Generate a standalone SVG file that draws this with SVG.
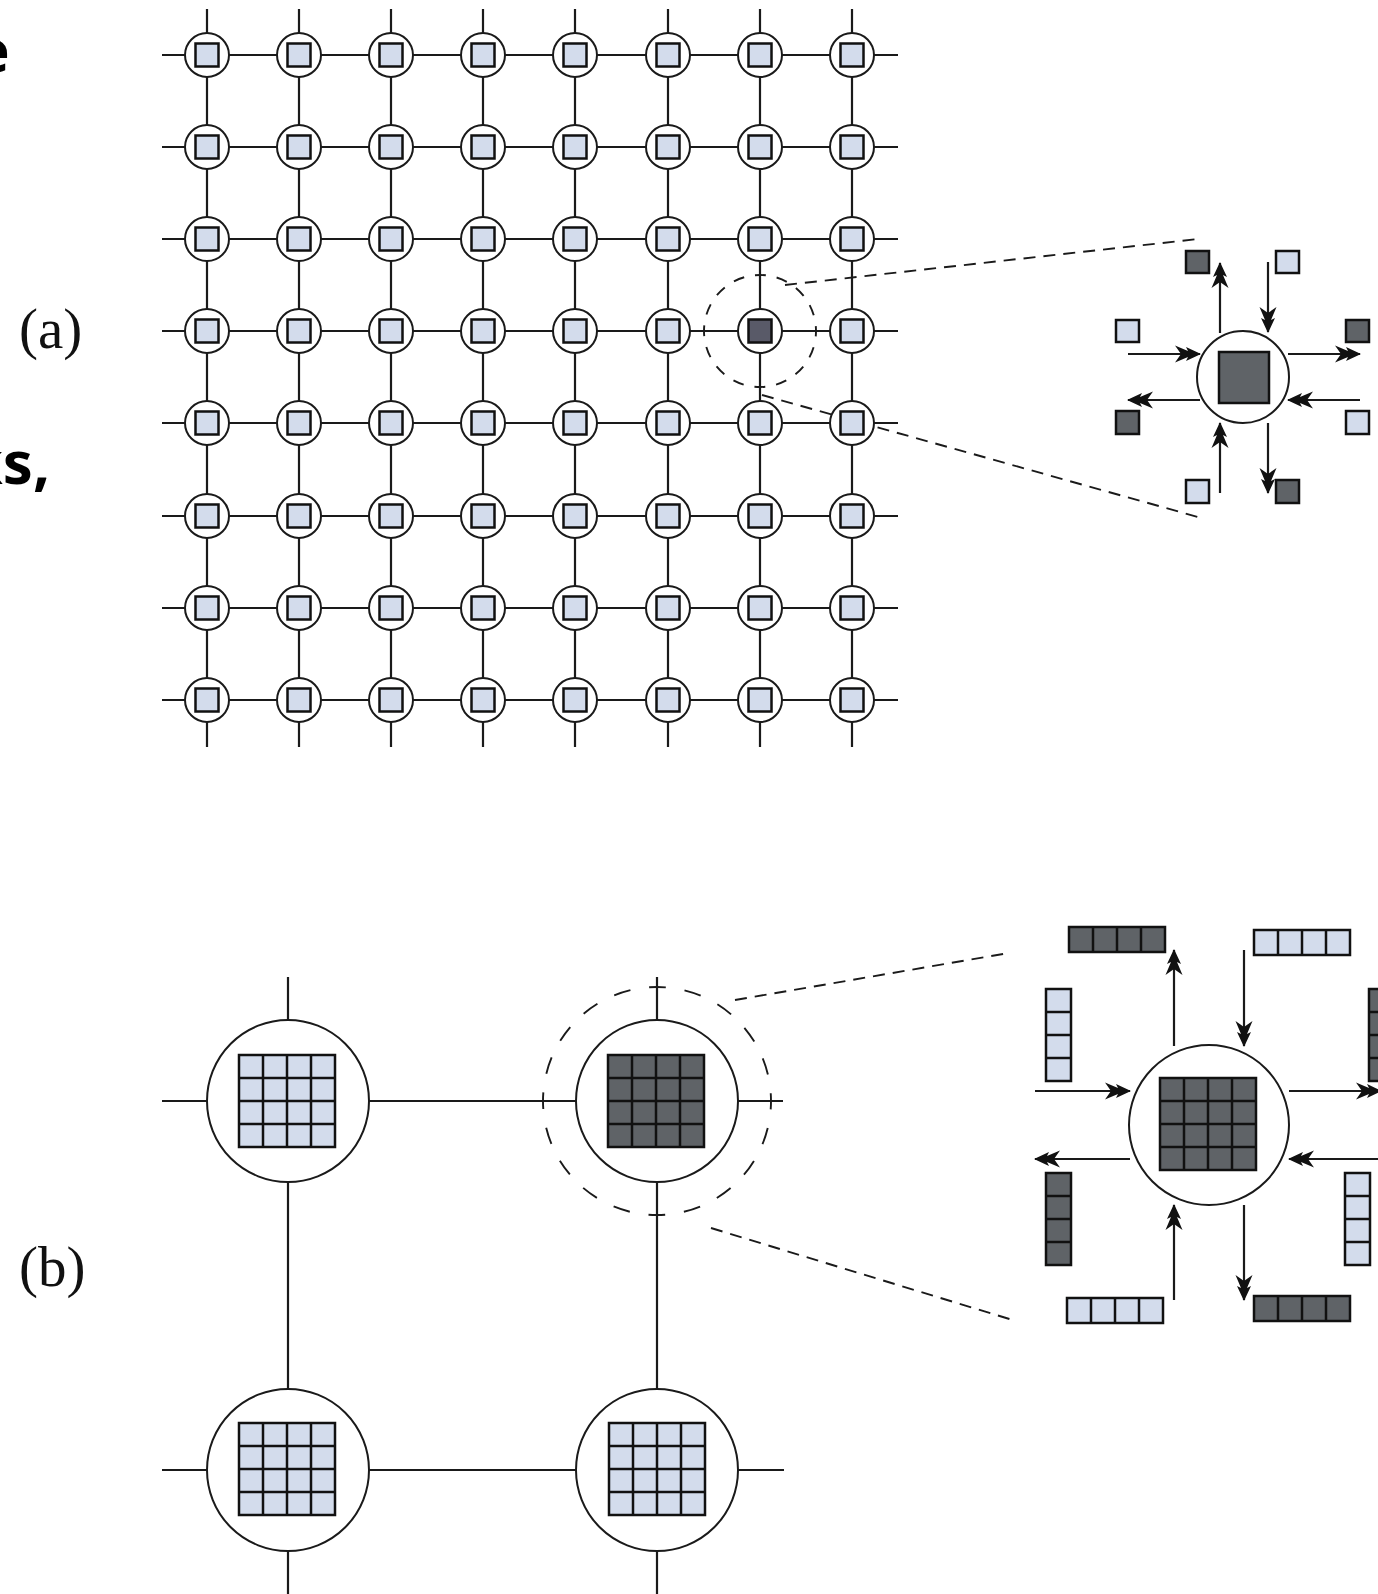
<svg xmlns="http://www.w3.org/2000/svg" xmlns:xlink="http://www.w3.org/1999/xlink" width="1378" height="1594" viewBox="0 0 1378 1594">
<style>
.ln{stroke:#1a1a1a;stroke-width:2.2;fill:none}
.ring{fill:#fff;stroke:#1a1a1a;stroke-width:2}
.sqL{fill:#d3dcec;stroke:#111;stroke-width:2.5}
.sqD{fill:#5f6367;stroke:#111;stroke-width:2.5}
.sqH{fill:#595a68;stroke:#111;stroke-width:2.5}
.dash{fill:none;stroke:#1a1a1a;stroke-width:1.9}
.cell{stroke:#111;stroke-width:2.5;fill:none}
.lblS{font-family:"Liberation Serif","Times New Roman",serif;font-size:57px;fill:#111}
.lblB{font-family:"Noto Sans","Open Sans",sans-serif;font-weight:700;font-style:normal;font-size:60px;fill:#000}
.arr{stroke:#1a1a1a;stroke-width:2.2;fill:none;marker-end:url(#ah)}
</style>
<defs>
<marker id="ah" markerUnits="userSpaceOnUse" markerWidth="30" markerHeight="22" viewBox="-27 -11 30 22" refX="0" refY="0" orient="auto">
<path d="M1,0 L-14,-7 L-12,-3 L-25,-8.5 L-19,0 L-25,8.5 L-12,3 L-14,7 Z" fill="#111"/>
</marker>
<g id="nodeA"><circle r="22" class="ring"/><rect x="-11.5" y="-11.5" width="23" height="23" class="sqL"/></g>
<g id="gridL"><rect x="-48" y="-46" width="96" height="92" fill="#d3dcec"/><path class="cell" d="M-48,-46h96v92h-96z M-24,-46v92 M0,-46v92 M24,-46v92 M-48,-23h96 M-48,0h96 M-48,23h96"/></g>
<g id="gridD"><rect x="-48" y="-46" width="96" height="92" fill="#5f6367"/><path class="cell" d="M-48,-46h96v92h-96z M-24,-46v92 M0,-46v92 M24,-46v92 M-48,-23h96 M-48,0h96 M-48,23h96"/></g>
<g id="barHL"><rect width="96" height="25" fill="#d3dcec"/><path class="cell" d="M0,0h96v25h-96z M24,0v25 M48,0v25 M72,0v25"/></g>
<g id="barHD"><rect width="96" height="25" fill="#5f6367"/><path class="cell" d="M0,0h96v25h-96z M24,0v25 M48,0v25 M72,0v25"/></g>
<g id="barVL"><rect width="25" height="92" fill="#d3dcec"/><path class="cell" d="M0,0h25v92h-25z M0,23h25 M0,46h25 M0,69h25"/></g>
<g id="barVD"><rect width="25" height="92" fill="#5f6367"/><path class="cell" d="M0,0h25v92h-25z M0,23h25 M0,46h25 M0,69h25"/></g>
</defs>
<rect width="1378" height="1594" fill="#fff"/>

<g id="texts">
<text class="lblB" x="-26" y="72">e</text>
<text class="lblB" x="50" y="484" text-anchor="end">ks,</text>
<text class="lblS" x="19" y="348">(a)</text>
<text class="lblS" x="19" y="1286">(b)</text>
</g>

<g id="connectors">
<g id="mesh-a">
<path class="ln" d="M207,9V747 M299,9V747 M391,9V747 M483,9V747 M575,9V747 M668,9V747 M760,9V747 M852,9V747"/>
<path class="ln" d="M162,55H898 M162,147H898 M162,239H898 M162,331H898 M162,423H898 M162,516H898 M162,608H898 M162,700H898"/>
</g>
<g id="mesh-b">
<path class="ln" d="M288,977V1594 M657,977V1594 M162,1101H783 M162,1470H784"/>
</g>
<g id="zoom-a">
<circle class="dash" cx="760" cy="331" r="56" stroke-dasharray="11 10.99" stroke-dashoffset="5.5"/>
<path class="dash" stroke-dasharray="12 8" d="M785,285 L1198,239"/>
<path class="dash" stroke-dasharray="12 8" d="M762,395 L1198,517"/>
</g>
<g id="zoom-b">
<circle class="dash" cx="657" cy="1101" r="114" stroke-dasharray="17 18.81" stroke-dashoffset="8.5"/>
<path class="dash" stroke-dasharray="12 8" d="M735,1000 L1009,953"/>
<path class="dash" stroke-dasharray="12 8" d="M711,1228 L1016,1321"/>
</g>
<g id="arrows-a">
<path class="arr" d="M1220,333V263"/>
<path class="arr" d="M1268,262V332"/>
<path class="arr" d="M1128,354H1200"/>
<path class="arr" d="M1288,354H1360"/>
<path class="arr" d="M1200,400H1128"/>
<path class="arr" d="M1360,400H1288"/>
<path class="arr" d="M1220,493V423"/>
<path class="arr" d="M1268,423V493"/>
</g>
<g id="arrows-b">
<path class="arr" d="M1174,1046V950"/>
<path class="arr" d="M1244,950V1046"/>
<path class="arr" d="M1035,1091H1130"/>
<path class="arr" d="M1289,1091H1381"/>
<path class="arr" d="M1130,1159H1035"/>
<path class="arr" d="M1380,1159H1289"/>
<path class="arr" d="M1174,1300V1205"/>
<path class="arr" d="M1244,1205V1300"/>
</g>
</g>

<g id="nodes-a">
<g id="a-r1c1" transform="translate(207,55)"><use href="#nodeA"/></g>
<g id="a-r1c2" transform="translate(299,55)"><use href="#nodeA"/></g>
<g id="a-r1c3" transform="translate(391,55)"><use href="#nodeA"/></g>
<g id="a-r1c4" transform="translate(483,55)"><use href="#nodeA"/></g>
<g id="a-r1c5" transform="translate(575,55)"><use href="#nodeA"/></g>
<g id="a-r1c6" transform="translate(668,55)"><use href="#nodeA"/></g>
<g id="a-r1c7" transform="translate(760,55)"><use href="#nodeA"/></g>
<g id="a-r1c8" transform="translate(852,55)"><use href="#nodeA"/></g>
<g id="a-r2c1" transform="translate(207,147)"><use href="#nodeA"/></g>
<g id="a-r2c2" transform="translate(299,147)"><use href="#nodeA"/></g>
<g id="a-r2c3" transform="translate(391,147)"><use href="#nodeA"/></g>
<g id="a-r2c4" transform="translate(483,147)"><use href="#nodeA"/></g>
<g id="a-r2c5" transform="translate(575,147)"><use href="#nodeA"/></g>
<g id="a-r2c6" transform="translate(668,147)"><use href="#nodeA"/></g>
<g id="a-r2c7" transform="translate(760,147)"><use href="#nodeA"/></g>
<g id="a-r2c8" transform="translate(852,147)"><use href="#nodeA"/></g>
<g id="a-r3c1" transform="translate(207,239)"><use href="#nodeA"/></g>
<g id="a-r3c2" transform="translate(299,239)"><use href="#nodeA"/></g>
<g id="a-r3c3" transform="translate(391,239)"><use href="#nodeA"/></g>
<g id="a-r3c4" transform="translate(483,239)"><use href="#nodeA"/></g>
<g id="a-r3c5" transform="translate(575,239)"><use href="#nodeA"/></g>
<g id="a-r3c6" transform="translate(668,239)"><use href="#nodeA"/></g>
<g id="a-r3c7" transform="translate(760,239)"><use href="#nodeA"/></g>
<g id="a-r3c8" transform="translate(852,239)"><use href="#nodeA"/></g>
<g id="a-r4c1" transform="translate(207,331)"><use href="#nodeA"/></g>
<g id="a-r4c2" transform="translate(299,331)"><use href="#nodeA"/></g>
<g id="a-r4c3" transform="translate(391,331)"><use href="#nodeA"/></g>
<g id="a-r4c4" transform="translate(483,331)"><use href="#nodeA"/></g>
<g id="a-r4c5" transform="translate(575,331)"><use href="#nodeA"/></g>
<g id="a-r4c6" transform="translate(668,331)"><use href="#nodeA"/></g>
<g id="a-r4c7" transform="translate(760,331)"><circle r="22" class="ring"/><rect x="-11.5" y="-11.5" width="23" height="23" class="sqH"/></g>
<g id="a-r4c8" transform="translate(852,331)"><use href="#nodeA"/></g>
<g id="a-r5c1" transform="translate(207,423)"><use href="#nodeA"/></g>
<g id="a-r5c2" transform="translate(299,423)"><use href="#nodeA"/></g>
<g id="a-r5c3" transform="translate(391,423)"><use href="#nodeA"/></g>
<g id="a-r5c4" transform="translate(483,423)"><use href="#nodeA"/></g>
<g id="a-r5c5" transform="translate(575,423)"><use href="#nodeA"/></g>
<g id="a-r5c6" transform="translate(668,423)"><use href="#nodeA"/></g>
<g id="a-r5c7" transform="translate(760,423)"><use href="#nodeA"/></g>
<g id="a-r5c8" transform="translate(852,423)"><use href="#nodeA"/></g>
<g id="a-r6c1" transform="translate(207,516)"><use href="#nodeA"/></g>
<g id="a-r6c2" transform="translate(299,516)"><use href="#nodeA"/></g>
<g id="a-r6c3" transform="translate(391,516)"><use href="#nodeA"/></g>
<g id="a-r6c4" transform="translate(483,516)"><use href="#nodeA"/></g>
<g id="a-r6c5" transform="translate(575,516)"><use href="#nodeA"/></g>
<g id="a-r6c6" transform="translate(668,516)"><use href="#nodeA"/></g>
<g id="a-r6c7" transform="translate(760,516)"><use href="#nodeA"/></g>
<g id="a-r6c8" transform="translate(852,516)"><use href="#nodeA"/></g>
<g id="a-r7c1" transform="translate(207,608)"><use href="#nodeA"/></g>
<g id="a-r7c2" transform="translate(299,608)"><use href="#nodeA"/></g>
<g id="a-r7c3" transform="translate(391,608)"><use href="#nodeA"/></g>
<g id="a-r7c4" transform="translate(483,608)"><use href="#nodeA"/></g>
<g id="a-r7c5" transform="translate(575,608)"><use href="#nodeA"/></g>
<g id="a-r7c6" transform="translate(668,608)"><use href="#nodeA"/></g>
<g id="a-r7c7" transform="translate(760,608)"><use href="#nodeA"/></g>
<g id="a-r7c8" transform="translate(852,608)"><use href="#nodeA"/></g>
<g id="a-r8c1" transform="translate(207,700)"><use href="#nodeA"/></g>
<g id="a-r8c2" transform="translate(299,700)"><use href="#nodeA"/></g>
<g id="a-r8c3" transform="translate(391,700)"><use href="#nodeA"/></g>
<g id="a-r8c4" transform="translate(483,700)"><use href="#nodeA"/></g>
<g id="a-r8c5" transform="translate(575,700)"><use href="#nodeA"/></g>
<g id="a-r8c6" transform="translate(668,700)"><use href="#nodeA"/></g>
<g id="a-r8c7" transform="translate(760,700)"><use href="#nodeA"/></g>
<g id="a-r8c8" transform="translate(852,700)"><use href="#nodeA"/></g>
</g>

<g id="detail-a">
<g id="da-center"><circle cx="1243" cy="377" r="46" class="ring"/><rect x="1219" y="352" width="50" height="51" class="sqD"/></g>
<g id="da-tl"><rect x="1186" y="251" width="23" height="22" class="sqD"/></g>
<g id="da-tr"><rect x="1276" y="251" width="23" height="22" class="sqL"/></g>
<g id="da-lu"><rect x="1116" y="320" width="23" height="22" class="sqL"/></g>
<g id="da-ru"><rect x="1346" y="320" width="23" height="22" class="sqD"/></g>
<g id="da-ll"><rect x="1116" y="411" width="23" height="23" class="sqD"/></g>
<g id="da-rl"><rect x="1346" y="411" width="23" height="23" class="sqL"/></g>
<g id="da-bl"><rect x="1186" y="480" width="23" height="23" class="sqL"/></g>
<g id="da-br"><rect x="1276" y="480" width="23" height="23" class="sqD"/></g>
</g>

<g id="nodes-b">
<g id="b-r1c1"><circle cx="288" cy="1101" r="81" class="ring"/><use href="#gridL" transform="translate(287,1101)"/></g>
<g id="b-r1c2"><circle cx="657" cy="1101" r="81" class="ring"/><use href="#gridD" transform="translate(656,1101)"/></g>
<g id="b-r2c1"><circle cx="288" cy="1470" r="81" class="ring"/><use href="#gridL" transform="translate(287,1469)"/></g>
<g id="b-r2c2"><circle cx="657" cy="1470" r="81" class="ring"/><use href="#gridL" transform="translate(657,1469)"/></g>
</g>

<g id="detail-b">
<g id="db-center"><circle cx="1209" cy="1125" r="80" class="ring"/><use href="#gridD" transform="translate(1208,1124)"/></g>
<g id="db-tl"><use href="#barHD" transform="translate(1069,927)"/></g>
<g id="db-tr"><use href="#barHL" transform="translate(1254,930)"/></g>
<g id="db-lu"><use href="#barVL" transform="translate(1046,989)"/></g>
<g id="db-ru"><use href="#barVD" transform="translate(1369,989)"/></g>
<g id="db-ll"><use href="#barVD" transform="translate(1046,1173)"/></g>
<g id="db-rl"><use href="#barVL" transform="translate(1345,1173)"/></g>
<g id="db-bl"><use href="#barHL" transform="translate(1067,1298)"/></g>
<g id="db-br"><use href="#barHD" transform="translate(1254,1296)"/></g>
</g>
</svg>
